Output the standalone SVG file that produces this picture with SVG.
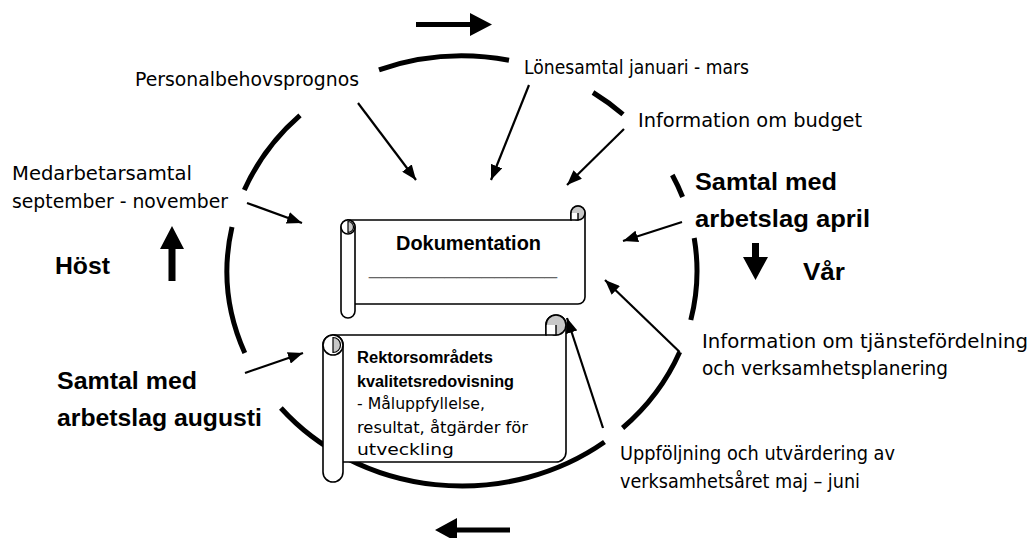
<svg xmlns="http://www.w3.org/2000/svg" width="1032" height="538" viewBox="0 0 1032 538">
<style>
.t{font-family:"DejaVu Sans","Liberation Sans",sans-serif;font-size:19px;fill:#000}
.b{font-family:"Liberation Sans",Arial,sans-serif;font-size:24px;font-weight:bold;fill:#000}
.sb{font-family:"Liberation Sans",Arial,sans-serif;font-size:16px;font-weight:bold;fill:#000}
.sr{font-family:"DejaVu Sans","Liberation Sans",sans-serif;font-size:16px;fill:#000}
.cyc{fill:none;stroke:#000;stroke-width:5;stroke-linecap:butt}
.con{fill:none;stroke:#000;stroke-width:2.2;marker-end:url(#ah)}
.body{fill:#fff;stroke:#000;stroke-width:1.6}
.curl{fill:#c8c8c8;stroke:#000;stroke-width:1.6}
.blk{fill:#000}
</style>
<defs>
<marker id="ah" markerUnits="userSpaceOnUse" markerWidth="16" markerHeight="12" refX="15" refY="6" orient="auto">
<path d="M0,0 L15,6 L0,12 Z" fill="#000"/>
</marker>
</defs>
<rect width="1032" height="538" fill="#fff"/>

<g id="cycle">
<path class="cyc" d="M379,69.8 A235 215 0 0 1 509,60.3"/>
<path class="cyc" d="M593,92.5 A235 215 0 0 1 623,114.4"/>
<path class="cyc" d="M672.3,175 A235 215 0 0 1 682.6,197"/>
<path class="cyc" d="M694.2,238 A235 215 0 0 1 690.8,320"/>
<path class="cyc" d="M679.7,352 A235 215 0 0 1 622.6,428"/>
<path class="cyc" d="M604.5,442 A235 215 0 0 1 280.9,408"/>
<path class="cyc" d="M232,227 A235 215 0 0 0 244.8,353"/>
<path class="cyc" d="M300,115.3 A235 215 0 0 0 244.3,190"/>
</g>

<g id="season-arrows">
<path class="blk" d="M416,22 H470 V13 L492,24.5 L470,36 V27 H416 Z"/>
<path class="blk" d="M510,527.5 H457 V518 L435,530 L457,542 V532.5 H510 Z"/>
<path class="blk" d="M168.5,281 V249 H160 L172,226 L184,249 H175.5 V281 Z"/>
<path class="blk" d="M752,243 H759 V257 H768 L755.5,280 L743,257 H752 Z"/>
</g>

<g id="dokumentation">
<path class="body" d="M348,220 H571 V213 A7 7 0 0 1 585,213 V297 A7 7 0 0 1 578,304 H348 Z"/>
<circle class="curl" cx="578" cy="213" r="7"/>
<path d="M571,213 V220 H578 V213" fill="#fff" stroke="#000" stroke-width="1.4"/>
<rect class="body" x="341" y="220" width="14" height="98" rx="7"/>
<circle cx="348" cy="227" r="7" fill="#fff" stroke="#000" stroke-width="1.6"/>
<path d="M348,221.5 A5 5 0 0 1 348,232.5 Z" fill="#c8c8c8" stroke="#000" stroke-width="1.2"/>
<text class="b" x="396" y="250" style="font-size:20px" textLength="145" lengthAdjust="spacingAndGlyphs">Dokumentation</text>
<text x="369" y="274" style="font-family:'Liberation Sans',Arial,sans-serif;font-size:20px;fill:#666" textLength="188" lengthAdjust="spacingAndGlyphs">_______________</text>
</g>

<g id="rektor">
<path class="body" d="M333,335 H546 V325 A10 10 0 0 1 566,325 V452 A10 10 0 0 1 556,462 H333 Z"/>
<circle class="curl" cx="556" cy="325" r="10"/>
<path d="M546,325 V335 H556 V325" fill="#fff" stroke="#000" stroke-width="1.4"/>
<rect class="body" x="323" y="335" width="20" height="147" rx="10"/>
<circle cx="333" cy="345" r="10" fill="#fff" stroke="#000" stroke-width="1.6"/>
<path d="M333,337.5 A7.5 7.5 0 0 1 333,352.5 Z" fill="#c8c8c8" stroke="#000" stroke-width="1.2"/>
<text class="sb" x="357" y="363" textLength="136" lengthAdjust="spacingAndGlyphs">Rektorsområdets</text>
<text class="sb" x="357" y="387" textLength="157" lengthAdjust="spacingAndGlyphs">kvalitetsredovisning</text>
<text class="sr" x="357" y="409" textLength="128" lengthAdjust="spacingAndGlyphs">- Måluppfyllelse,</text>
<text class="sr" x="357" y="433" textLength="171" lengthAdjust="spacingAndGlyphs">resultat, åtgärder för</text>
<text class="sr" x="357" y="455" textLength="97" lengthAdjust="spacingAndGlyphs">utveckling</text>
</g>

<g id="connectors">
<line class="con" x1="358" y1="103" x2="416" y2="180"/>
<line class="con" x1="529" y1="85" x2="491" y2="180"/>
<line class="con" x1="624" y1="129" x2="567" y2="185"/>
<line class="con" x1="247" y1="203" x2="302" y2="223"/>
<line class="con" x1="682" y1="222" x2="623" y2="241"/>
<line class="con" x1="679.7" y1="352" x2="605" y2="280"/>
<line class="con" x1="603" y1="428" x2="567" y2="318"/>
<line class="con" x1="245" y1="373" x2="303" y2="353"/>
</g>

<g id="labels">
<g id="personal"><text class="t" x="135" y="86" textLength="224" lengthAdjust="spacingAndGlyphs">Personalbehovsprognos</text></g>
<g id="lonesamtal"><text class="t" x="524" y="74" textLength="225" lengthAdjust="spacingAndGlyphs">Lönesamtal januari - mars</text></g>
<g id="budget"><text class="t" x="638" y="127" textLength="224" lengthAdjust="spacingAndGlyphs">Information om budget</text></g>
<g id="medarbetar"><text class="t" x="12" y="180" textLength="180" lengthAdjust="spacingAndGlyphs">Medarbetarsamtal</text>
<text class="t" x="12" y="208" textLength="216" lengthAdjust="spacingAndGlyphs">september - november</text></g>
<g id="host"><text class="b" x="55" y="274" textLength="55" lengthAdjust="spacingAndGlyphs">Höst</text></g>
<g id="april"><text class="b" x="695" y="190" textLength="142" lengthAdjust="spacingAndGlyphs">Samtal med</text>
<text class="b" x="695" y="227" textLength="175" lengthAdjust="spacingAndGlyphs">arbetslag april</text></g>
<g id="var"><text class="b" x="803" y="280" textLength="42" lengthAdjust="spacingAndGlyphs">Vår</text></g>
<g id="tjanst"><text class="t" x="702" y="348" textLength="326" lengthAdjust="spacingAndGlyphs">Information om tjänstefördelning</text>
<text class="t" x="702" y="375" textLength="246" lengthAdjust="spacingAndGlyphs">och verksamhetsplanering</text></g>
<g id="augusti"><text class="b" x="57" y="389" textLength="140" lengthAdjust="spacingAndGlyphs">Samtal med</text>
<text class="b" x="57" y="426" textLength="205" lengthAdjust="spacingAndGlyphs">arbetslag augusti</text></g>
<g id="uppfoljning"><text class="t" x="620" y="460" textLength="275" lengthAdjust="spacingAndGlyphs">Uppföljning och utvärdering av</text>
<text class="t" x="620" y="488" textLength="240" lengthAdjust="spacingAndGlyphs">verksamhetsåret maj – juni</text></g>
</g>
</svg>
